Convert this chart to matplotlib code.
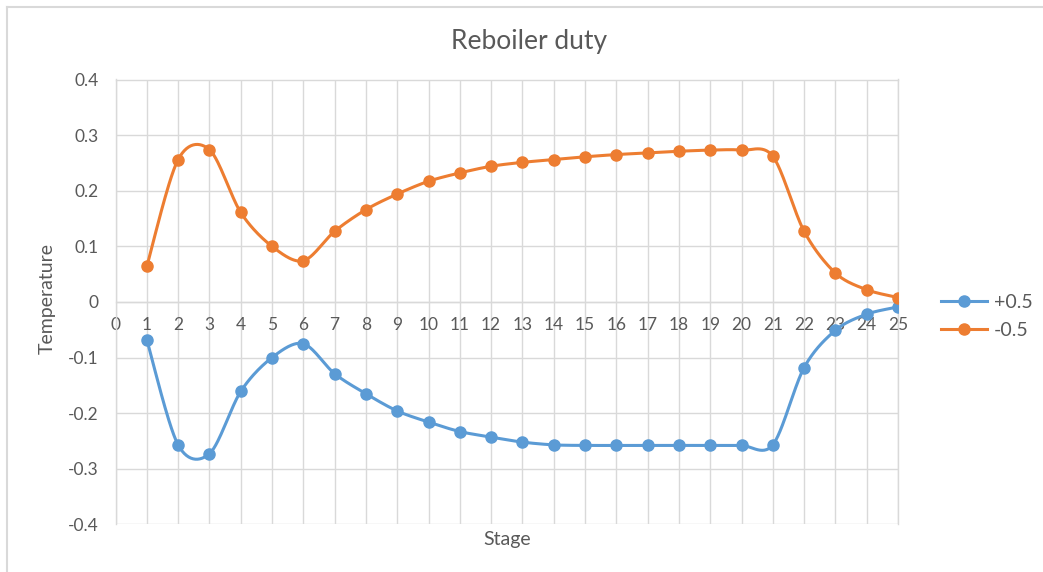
import numpy as np
import matplotlib
matplotlib.use("Agg")
import matplotlib.pyplot as plt
from matplotlib.lines import Line2D

# ---- data ----
stages = list(range(1, 26))
plus_05 = [-0.068, -0.257, -0.273, -0.161, -0.100, -0.075, -0.129, -0.165, -0.196,
           -0.216, -0.233, -0.243, -0.252, -0.257, -0.258, -0.258, -0.258, -0.258,
           -0.258, -0.258, -0.257, -0.118, -0.051, -0.022, -0.009]
minus_05 = [0.064, 0.256, 0.274, 0.161, 0.100, 0.074, 0.127, 0.166, 0.194,
            0.217, 0.232, 0.244, 0.251, 0.256, 0.261, 0.265, 0.268, 0.271,
            0.273, 0.273, 0.262, 0.127, 0.052, 0.022, 0.008]
series_names = ["+0.5", "-0.5"]
x_ticks = list(range(0, 26))
y_ticks = [-0.4, -0.3, -0.2, -0.1, 0, 0.1, 0.2, 0.3, 0.4]
title = "Reboiler duty"
x_label = "Stage"
y_label = "Temperature"

BLUE = "#5B9BD5"
ORANGE = "#ED7D31"
GRID = "#D9D9D9"
TXT = "#595959"
FONT = "Lato"

plt.rcParams['font.family'] = [FONT, 'DejaVu Sans']


def smooth(x, y, n=30):
    """Excel-like Bezier smoothing through the points."""
    x = np.asarray(x, float)
    y = np.asarray(y, float)
    P = np.column_stack([x, y])
    Pext = np.vstack([P[0], P, P[-1]])
    out = []
    t = np.linspace(0, 1, n)[:, None]
    k = 1 / 6.5
    for i in range(len(P) - 1):
        p0, p1, p2, p3 = Pext[i], Pext[i + 1], Pext[i + 2], Pext[i + 3]
        c1 = p1 + (p2 - p0) * k
        c2 = p2 - (p3 - p1) * k
        seg = ((1 - t) ** 3) * p1 + 3 * ((1 - t) ** 2) * t * c1 + 3 * (1 - t) * t ** 2 * c2 + t ** 3 * p2
        out.append(seg if i == 0 else seg[1:])
    out = np.vstack(out)
    return out[:, 0], out[:, 1]


W, H = 1043, 572
fig = plt.figure(figsize=(W / 100, H / 100), dpi=100)
ax = fig.add_axes([115.5 / W, 1 - 524.4 / H, (898 - 115.5) / W, (524.4 - 79.5) / H])

for vals, col in [(plus_05, BLUE), (minus_05, ORANGE)]:
    sx, sy = smooth(stages, vals)
    ax.plot(sx, sy, color=col, lw=2.2, solid_capstyle='round', zorder=3)
    ax.plot(stages, vals, 'o', color=col, ms=8, zorder=4)

ax.set_xlim(0, 25)
ax.set_ylim(-0.4, 0.4)
ax.set_xticks(x_ticks)
ax.set_yticks(y_ticks)
ax.set_yticklabels([("%g" % v) for v in y_ticks])
ax.grid(True, color=GRID, lw=1.0)
ax.set_axisbelow(True)
for s in ax.spines.values():
    s.set_color(GRID)
    s.set_linewidth(1.0)
ax.spines['bottom'].set_position(('data', 0))
ax.tick_params(axis='both', length=0, colors=TXT, labelsize=12.5)
ax.tick_params(axis='x', pad=11)
ax.tick_params(axis='y', pad=12)

fig.text(529 / W, 1 - 41 / H, title, ha='center', va='center', fontsize=19, color=TXT)
fig.text(507 / W, 1 - 540 / H, x_label, ha='center', va='center', fontsize=14, color=TXT)
fig.text(47 / W, 1 - 299 / H, y_label, ha='center', va='center', fontsize=14, color=TXT, rotation=90)

# legend
handles = [Line2D([], [], color=BLUE, lw=2.2, marker='o', ms=8),
           Line2D([], [], color=ORANGE, lw=2.2, marker='o', ms=8)]
fig.legend(handles, series_names, loc='center left', bbox_to_anchor=(931 / W, 1 - 316.5 / H),
           frameon=False, fontsize=14, labelcolor=TXT, handlelength=2.4, handletextpad=0.35,
           labelspacing=0.55, borderpad=0)

# chart area border (partially visible)
fig.add_artist(Line2D([7 / W, 7 / W], [0, 1 - 7 / H], color=GRID, lw=1.5, transform=fig.transFigure))
fig.add_artist(Line2D([7 / W, 1], [1 - 7 / H, 1 - 7 / H], color=GRID, lw=1.5, transform=fig.transFigure))

fig.savefig("out.png", dpi=100)
